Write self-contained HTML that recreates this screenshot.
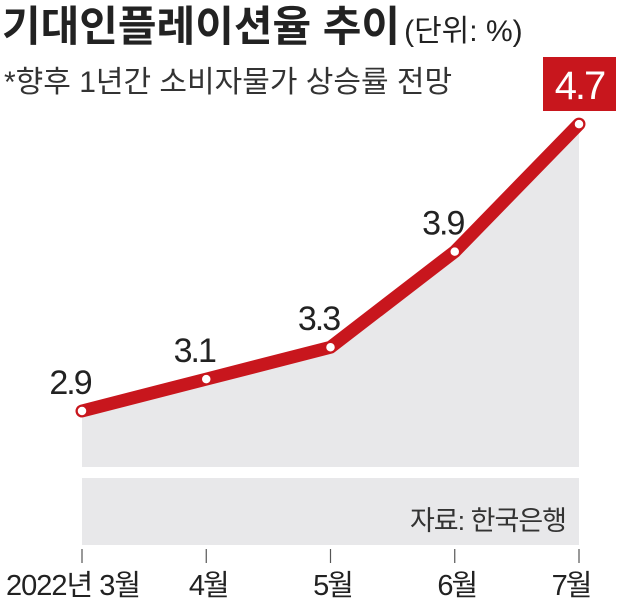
<!DOCTYPE html>
<html><head><meta charset="utf-8"><style>
body{margin:0;background:#fff;width:620px;height:603px;overflow:hidden;font-family:"Liberation Sans","Noto Sans CJK KR",sans-serif}
</style></head><body>
<svg width="620" height="603" style="font-family:'Liberation Sans','Noto Sans CJK KR',sans-serif">
<text x="2" y="41" font-size="42" font-weight="bold" fill="#222">기대인플레이션율 추이<tspan font-size="30" font-weight="normal" dx="4">(단위: %)</tspan></text>
<text x="4" y="92" font-size="30" fill="#333">*향후 1년간 소비자물가 상승률 전망</text>
<rect x="82" y="478" width="497" height="67" fill="#e8e8ea"/>
<text x="566" y="530" font-size="27" fill="#333" text-anchor="end" letter-spacing="-1">자료: 한국은행</text>
<g id="plot"></g>
</svg>
<script>
const categories=["2022년 3월","4월","5월","6월","7월"];
const values=[2.9,3.1,3.3,3.9,4.7];
const valueLabels=["2.9","3.1","3.3","3.9","4.7"];
const ns="http://www.w3.org/2000/svg";
const g=document.getElementById('plot');
function xs(i){return 82+i*(579-82)/(categories.length-1);}
function ys(v){return 411-(v-2.9)*159.4;}
function mk(t,a){const e=document.createElementNS(ns,t);for(const k in a)e.setAttribute(k,a[k]);g.appendChild(e);return e;}
let area="M"+xs(0)+",467 ";values.forEach((v,i)=>area+="L"+xs(i)+","+ys(v)+" ");area+="L"+xs(values.length-1)+",467Z";
const ar=mk('path',{d:area,fill:'#e8e8ea'});


const ln=mk('polyline',{points:values.map((v,i)=>xs(i)+","+ys(v)).join(" "),fill:'none',stroke:'#c8161d','stroke-width':13,'stroke-linejoin':'round','stroke-linecap':'round'});


categories.forEach((c,i)=>{
 const x=xs(i);
 const t=mk('line',{x1:x,y1:549,x2:x,y2:563,stroke:'#555','stroke-width':1.2});
 
 
 const lx=i===0?x+58:(i===categories.length-1?x-8:x+2);
 const l=mk('text',{x:lx,y:595,'font-size':29,'text-anchor':'end',fill:'#222','letter-spacing':i===0?'-1':'-2'});
 if(i>0)l.setAttribute('text-anchor','middle');
 l.textContent=c;
 
 
 const p=mk('circle',{cx:x,cy:ys(values[i]),r:5,fill:'#fff',stroke:'#c8161d','stroke-width':1.5});
 
 
 if(i<categories.length-1){
  const v=mk('text',{x:x-12,y:ys(values[i])-17,'font-size':34,'text-anchor':'middle',fill:'#222','letter-spacing':'-2'});
  v.textContent=valueLabels[i];
  
  
 }else{
  const r=mk('rect',{x:543,y:57,width:73,height:54,fill:'#c8161d'});
  
  
  const v=mk('text',{x:579.5,y:99,'font-size':40,'text-anchor':'middle',fill:'#fff','letter-spacing':'-2'});
  v.textContent=valueLabels[i];
  
  
 }
});
</script>
</body></html>
